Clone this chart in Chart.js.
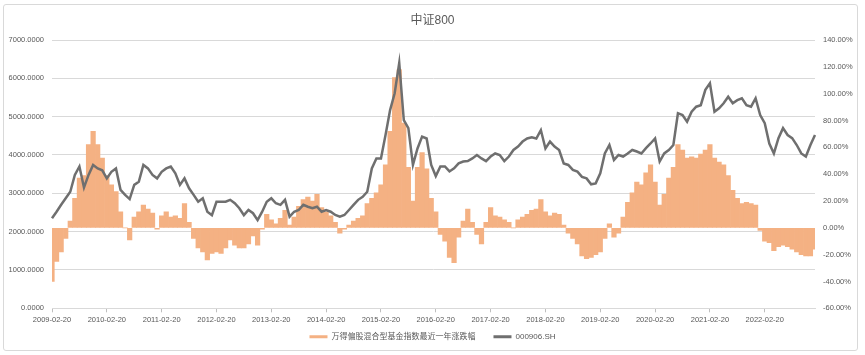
<!DOCTYPE html>
<html><head><meta charset="utf-8">
<script src="https://cdn.jsdelivr.net/npm/chart.js@4.4.0/dist/chart.umd.min.js"></script>
<style>
html,body{margin:0;padding:0;background:#fff;}
#wrap{position:relative;width:865px;height:355px;}
#frame{position:absolute;left:3px;top:4px;width:853px;height:345px;border:1px solid #d9d9d9;border-radius:3px;pointer-events:none;}
canvas{position:absolute;left:0;top:0;}
</style></head><body>
<div id="wrap"><canvas id="c" width="865" height="355"></canvas><div id="frame"></div></div>
<script>
const chartTitle = '中证800';
const barName = '万得偏股混合型基金指数最近一年涨跌幅';
const lineName = '000906.SH';
const tickLabels = ['2009-02-20','2010-02-20','2011-02-20','2012-02-20','2013-02-20','2014-02-20','2015-02-20','2016-02-20','2017-02-20','2018-02-20','2019-02-20','2020-02-20','2021-02-20','2022-02-20'];
// monthly sample dates, 2009-02-20 .. 2023-01-20
const categories = [];
for (let y = 2009; y <= 2023; y++) {
  for (let m = 1; m <= 12; m++) {
    if ((y === 2009 && m < 2) || (y === 2023 && m > 1)) continue;
    categories.push(y + '-' + String(m).padStart(2, '0') + '-20');
  }
}
// 万得偏股混合型基金指数最近一年涨跌幅 (%), right axis
const fundReturn = [
 -40,-25,-18,-8,5,22,37,39,62,72,62,
 52,39,32,27,12,0,-9,8,12,17,14,11,
 -1,9,12,8,9,7,18,4,-8,-15,-18,-24,
 -19,-18,-19,-15,-9,-13,-15,-15,-12,-6,-13,-1,
 10,6,3,7,13,2,8,16,21,23,20,25,
 15,12,9,4,-4,-1,2,5,7,9,18,22,
 26,32,47,72,112,118,78,45,20,45,56,44,
 22,12,-5,-10,-22,-26,-7,5,14,4,-5,-12,
 4,15,9,8,6,4,0,6,8,10,13,14,
 21,12,9,11,10,2,-4,-8,-12,-21,-23,-22,
 -20,-18,-8,3,-7,-4,8,19,26,34,32,41,
 47,34,17,25,37,45,62,58,52,53,52,55,
 58,62,52,49,47,39,28,22,18,19,18,17,
 -2,-10,-11,-17,-14,-13,-14,-16,-18,-20,-21,-21,
 -16
];
// 000906.SH close, left axis
const csi800 = [
 2350,2520,2700,2870,3040,3480,3700,3150,3480,3740,3650,
 3600,3390,3560,3650,3090,2960,2850,3220,3300,3740,3650,3480,
 3390,3560,3650,3700,3520,3220,3390,3130,2960,2780,2870,2520,
 2430,2780,2780,2780,2830,2740,2610,2430,2565,2480,2300,2520,
 2780,2870,2740,2700,2830,2390,2520,2565,2700,2650,2610,2650,
 2520,2565,2520,2435,2390,2435,2565,2700,2830,2910,3040,3650,
 3910,3910,4520,5170,5610,6400,4910,4700,3740,4170,4480,4430,
 3740,3450,3700,3700,3570,3650,3780,3830,3840,3910,4000,3910,
 3840,3960,4040,4000,3840,3960,4130,4220,4350,4430,4460,4430,
 4650,4170,4350,4220,4130,3780,3740,3610,3565,3430,3390,3235,
 3260,3520,4040,4260,3870,4000,3960,4040,4130,4090,4040,4180,
 4300,4430,3830,4040,4130,4260,5090,5040,4870,5130,5260,5300,
 5700,5870,5130,5220,5350,5520,5350,5430,5480,5300,5260,5480,
 5040,4830,4300,4040,4440,4700,4520,4440,4260,4040,3960,4260,
 4520
];
const leftTicks = {min: 0, max: 7000, step: 1000};
const rightTicks = {min: -60, max: 140, step: 20};

const TXT = '#595959';
Chart.defaults.font.family = "'Liberation Sans', 'Noto Sans CJK SC', sans-serif";
Chart.defaults.color = TXT;

new Chart(document.getElementById('c'), {
  type: 'bar',
  data: {
    labels: categories,
    datasets: [
      {type: 'bar', label: barName, data: fundReturn, yAxisID: 'y1', order: 2,
       backgroundColor: '#F4B183', borderWidth: 0, barPercentage: 1, categoryPercentage: 1},
      {type: 'line', label: lineName, data: csi800, yAxisID: 'y', order: 1,
       borderColor: '#6f6f6f', backgroundColor: '#6f6f6f', borderWidth: 2.5, pointRadius: 0, tension: 0}
    ]
  },
  options: {
    responsive: false,
    animation: false,
    layout: {padding: {top: 0, left: 0, right: 0, bottom: 4.3}},
    plugins: {
      tooltip: {enabled: false},
      title: {display: true, text: chartTitle, color: TXT, font: {size: 12, weight: 'normal'}, padding: {top: 13.5, bottom: 12.1}},
      legend: {
        position: 'bottom',
        labels: {
          boxWidth: 18, boxHeight: 3, padding: 18, color: TXT, font: {size: 8},
          sort: (a, b) => a.datasetIndex - b.datasetIndex,
          generateLabels: (chart) => {
            const items = Chart.defaults.plugins.legend.labels.generateLabels(chart);
            items.forEach(it => { it.lineWidth = 0; });
            return items;
          }
        }
      }
    },
    scales: {
      x: {
        type: 'category', offset: false,
        grid: {offset: false, drawOnChartArea: false, drawTicks: true, tickLength: 4,
               color: (ctx) => tickLabels.includes(categories[ctx.index]) ? '#bfbfbf' : 'rgba(0,0,0,0)'},
        border: {display: true, color: '#d9d9d9'},
        ticks: {autoSkip: false, maxRotation: 0, minRotation: 0, padding: 3, color: TXT, font: {size: 7.5},
                callback: function(v, i) { const l = categories[i]; return tickLabels.includes(l) ? l : ''; }},
        afterFit: (s) => { s.height = 6.4; s._computeLabelArea = () => undefined; }
      },
      y: {
        position: 'left', min: leftTicks.min, max: leftTicks.max,
        ticks: {stepSize: leftTicks.step, padding: 8, color: TXT, font: {size: 7.5}, callback: (v) => Number(v).toFixed(4)},
        grid: {color: '#d9d9d9', drawTicks: false},
        border: {display: false},
        afterFit: (s) => { s.width = 52; }
      },
      y1: {
        position: 'right', min: rightTicks.min, max: rightTicks.max,
        ticks: {stepSize: rightTicks.step, padding: 8, color: TXT, font: {size: 7.5}, callback: (v) => Number(v).toFixed(2) + '%'},
        grid: {drawOnChartArea: false, drawTicks: false},
        border: {display: false},
        afterFit: (s) => { s.width = 50; }
      }
    }
  }
});
</script>
</body></html>
